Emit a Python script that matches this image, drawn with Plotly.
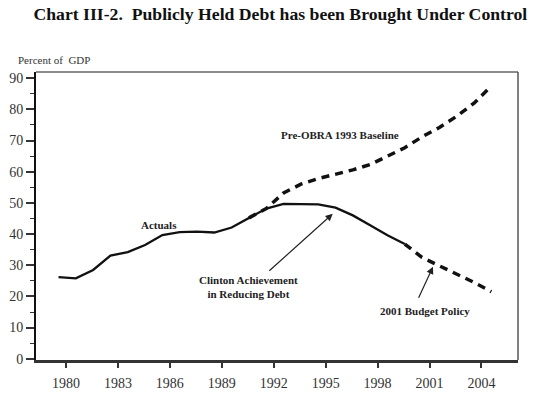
import plotly.graph_objects as go

# ---- data ----
actual_years = list(range(1980, 2001))
actual_values = [26.2, 25.8, 28.5, 33.1, 34.2, 36.5, 39.7, 40.6, 40.8, 40.5,
                 42.1, 45.2, 48.2, 49.7, 49.6, 49.5, 48.5, 46.0, 42.8, 39.6, 36.8]

baseline_years = list(range(1991, 2006))
baseline_values = [45.2, 48.2, 53.2, 56.0, 57.8, 59.2, 60.6, 62.3, 65.0, 67.7,
                   71.2, 74.2, 77.8, 82.0, 87.5]

budget_years = list(range(2000, 2006))
budget_values = [36.8, 32.5, 29.8, 27.3, 24.5, 21.5]

tick_years = [1980, 1983, 1986, 1989, 1992, 1995, 1998, 2001, 2004]
tick_offset = 0.43
y_ticks = list(range(0, 100, 10))

title = "Chart III-2.  Publicly Held Debt has been Brought Under Control"

serif = "Liberation Serif"

fig = go.Figure()
fig.add_trace(go.Scatter(x=baseline_years, y=baseline_values, mode="lines",
                         line=dict(color="#111", width=3.5, dash="8px,6px"),
                         hoverinfo="skip"))
fig.add_trace(go.Scatter(x=budget_years, y=budget_values, mode="lines",
                         line=dict(color="#111", width=3.5, dash="8px,6px"),
                         hoverinfo="skip"))
fig.add_trace(go.Scatter(x=actual_years, y=actual_values, mode="lines",
                         line=dict(color="#111", width=2.3),
                         hoverinfo="skip"))

fig.update_layout(
    template="none",
    width=535, height=394, autosize=False,
    margin=dict(l=36, r=16.5, t=72, b=34, pad=0),
    paper_bgcolor="white", plot_bgcolor="white",
    showlegend=False,
    font=dict(family=serif, color="#222"),
    title=dict(text="<b>" + title + "</b>", xref="container", yref="container",
               x=0.524, xanchor="center", y=0.964, yanchor="middle",
               font=dict(family=serif, size=17.7, color="#111")),
)

fig.update_xaxes(
    automargin=False,
    range=[1978.70, 2006.54],
    tickvals=[t + tick_offset for t in tick_years],
    ticktext=[str(t) for t in tick_years],
    ticks="outside", ticklen=5, tickwidth=1.5, tickcolor="#333",
    ticklabelstandoff=3,
    showgrid=False, zeroline=False,
    showline=True, linecolor="#333", linewidth=2.5,
    tickfont=dict(family=serif, size=14, color="#333"),
)
fig.update_yaxes(
    automargin=False,
    range=[-0.4, 92.0],
    tickvals=y_ticks,
    ticks="outside", ticklen=8, tickwidth=1.5, tickcolor="#333",
    minor=dict(dtick=5, tick0=0, ticks="outside", ticklen=4, tickwidth=1.2, tickcolor="#333"),
    showgrid=False, zeroline=False,
    showline=True, linecolor="#111", linewidth=2,
    tickfont=dict(family=serif, size=14, color="#333"),
)

# top and right borders
fig.add_shape(type="line", xref="paper", yref="paper", x0=0, x1=1, y0=1, y1=1,
              line=dict(color="#666", width=1.5))
fig.add_shape(type="line", xref="paper", yref="paper", x0=1, x1=1, y0=0, y1=1,
              line=dict(color="#555", width=1.5))

lab_font = dict(family=serif, size=11, color="#222")
fig.add_annotation(text="Percent of  GDP", xref="paper", yref="paper",
                   x=-0.0415, y=1.0417, xanchor="left", yanchor="middle",
                   showarrow=False, font=dict(family=serif, size=11, color="#333"))
fig.add_annotation(text="<b>Actuals</b>", x=1985.82, y=42.8, showarrow=False, font=lab_font)
fig.add_annotation(text="<b>Pre-OBRA 1993 Baseline</b>", x=1996.24, y=71.8,
                   showarrow=False, font=lab_font)
fig.add_annotation(text="<b>Clinton Achievement<br>in Reducing Debt</b>", x=1990.99, y=22.9,
                   showarrow=False, font=lab_font, align="center")
fig.add_annotation(text="<b>2001 Budget Policy</b>", x=2001.19, y=15.4,
                   showarrow=False, font=lab_font)

# arrows
fig.add_annotation(text="", x=1995.84, y=46.5, ax=1992.09, ay=27.8,
                   axref="x", ayref="y", showarrow=True, arrowhead=2,
                   arrowsize=1.2, arrowwidth=1.2, arrowcolor="#222")
fig.add_annotation(text="", x=2001.63, y=29.5, ax=2000.76, ay=19.1,
                   axref="x", ayref="y", showarrow=True, arrowhead=2,
                   arrowsize=1.2, arrowwidth=1.2, arrowcolor="#222")

fig.write_html("out.html",
               config={"displayModeBar": False, "responsive": False},
               post_script="document.body.style.margin='0';document.body.style.overflow='hidden';")
